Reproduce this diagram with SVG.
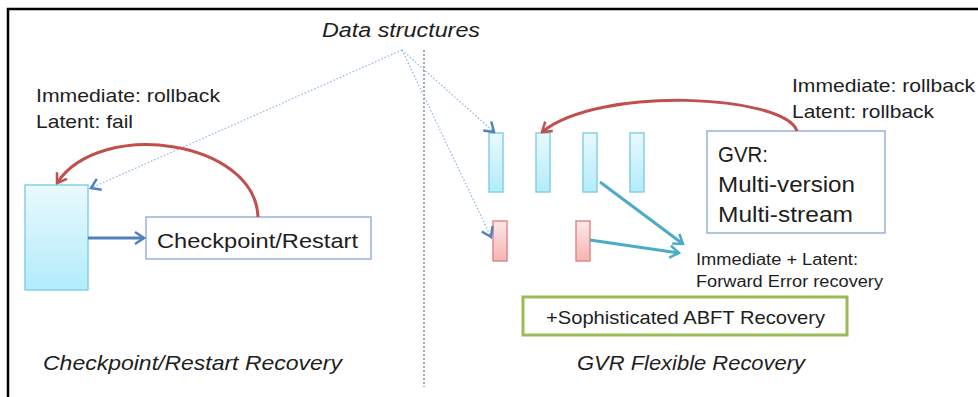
<svg xmlns="http://www.w3.org/2000/svg" width="978" height="397" viewBox="0 0 978 397">
<style>
text{font-family:"Liberation Sans",Arial,sans-serif;fill:#1e1e1e}
.it{font-style:italic}
.dot{fill:none;stroke:#8db3e2;stroke-width:1.2;stroke-dasharray:1.5 2}
.red{fill:none;stroke:#c0504d;stroke-width:3}
.teal{fill:none;stroke:#4bacc6;stroke-width:3}
.blue{fill:none;stroke:#4f81bd;stroke-width:3}
.brect{fill:url(#gb);stroke:#86cfe3;stroke-width:1.5}
.rrect{fill:url(#gr);stroke:#e0898a;stroke-width:1.5}
.box{fill:#fff;stroke:#95b3d7;stroke-width:1.5}
</style>
<defs>
<linearGradient id="gb" x1="0" y1="0" x2="0" y2="1"><stop offset="0" stop-color="#e9f9fd"/><stop offset="1" stop-color="#b2ecfb"/></linearGradient>
<linearGradient id="gr" x1="0" y1="0" x2="0" y2="1"><stop offset="0" stop-color="#fde8e8"/><stop offset="1" stop-color="#f6b3b3"/></linearGradient>
<marker id="mb" markerUnits="userSpaceOnUse" viewBox="-12 -8 14 16" markerWidth="14" markerHeight="16" refX="0" refY="0" orient="auto"><path d="M-9,-6 L0,0 L-9,6" fill="none" stroke="#4f81bd" stroke-width="2.5"/></marker>
<marker id="mr" markerUnits="userSpaceOnUse" viewBox="-12 -8 14 16" markerWidth="14" markerHeight="16" refX="0" refY="0" orient="auto"><path d="M-9,-6 L0,0 L-9,6" fill="none" stroke="#c0504d" stroke-width="2.5"/></marker>
<marker id="mt" markerUnits="userSpaceOnUse" viewBox="-12 -8 14 16" markerWidth="14" markerHeight="16" refX="0" refY="0" orient="auto"><path d="M-9,-6 L0,0 L-9,6" fill="none" stroke="#4bacc6" stroke-width="2.5"/></marker>
</defs>
<rect width="978" height="397" fill="#fff"/>
<path d="M8,397 V9 H978" fill="none" stroke="#000" stroke-width="2.5"/>
<line x1="424" y1="50" x2="424" y2="387" stroke="#555" stroke-width="1" stroke-dasharray="2 2"/>

<g id="title-data"><text class="it" x="322" y="37" font-size="20" textLength="158" lengthAdjust="spacingAndGlyphs">Data structures</text></g>

<g id="left-label"><text x="36" y="102" font-size="19" textLength="184" lengthAdjust="spacingAndGlyphs">Immediate: rollback</text><text x="36" y="128" font-size="19" textLength="97" lengthAdjust="spacingAndGlyphs">Latent: fail</text></g>

<g id="left-data"><rect class="brect" x="25" y="185" width="63" height="105"/></g>
<g id="checkpoint"><rect class="box" x="146" y="217" width="225" height="42"/><text x="157" y="248" font-size="21" textLength="201" lengthAdjust="spacingAndGlyphs">Checkpoint/Restart</text></g>
<g id="left-caption"><text class="it" x="43" y="370" font-size="21" textLength="299" lengthAdjust="spacingAndGlyphs">Checkpoint/Restart Recovery</text></g>

<g id="versions">
<rect class="brect" x="489" y="133" width="14" height="59"/>
<rect class="brect" x="536" y="133" width="14" height="59"/>
<rect class="brect" x="583" y="133" width="14" height="59"/>
<rect class="brect" x="630" y="133" width="14" height="59"/>
</g>
<g id="streams">
<rect class="rrect" x="493" y="221" width="14" height="40"/>
<rect class="rrect" x="576" y="221" width="14" height="40"/>
</g>
<g id="gvr"><rect class="box" x="707" y="131" width="178" height="102"/>
<text x="718" y="162" font-size="22" textLength="50" lengthAdjust="spacingAndGlyphs">GVR:</text>
<text x="718" y="192" font-size="22" textLength="137" lengthAdjust="spacingAndGlyphs">Multi-version</text>
<text x="718" y="222" font-size="22" textLength="135" lengthAdjust="spacingAndGlyphs">Multi-stream</text></g>
<g id="right-label"><text x="792" y="92" font-size="19" textLength="183" lengthAdjust="spacingAndGlyphs">Immediate: rollback</text><text x="792" y="118" font-size="19" textLength="142" lengthAdjust="spacingAndGlyphs">Latent: rollback</text></g>
<g id="forward-label"><text x="696" y="265" font-size="16" textLength="162" lengthAdjust="spacingAndGlyphs">Immediate + Latent:</text><text x="696" y="287" font-size="16" textLength="187" lengthAdjust="spacingAndGlyphs">Forward Error recovery</text></g>
<g id="abft"><rect x="523" y="297" width="324" height="38" fill="#fff" stroke="#9bbb59" stroke-width="3"/><text x="546" y="324" font-size="19" textLength="279" lengthAdjust="spacingAndGlyphs">+Sophisticated ABFT Recovery</text></g>
<g id="right-caption"><text class="it" x="577" y="370" font-size="21" textLength="228" lengthAdjust="spacingAndGlyphs">GVR Flexible Recovery</text></g>

<g id="connectors">
<path class="dot" d="M402,50 L91,188" marker-end="url(#mb)"/>
<path class="dot" d="M402,50 L494,132" marker-end="url(#mb)"/>
<path class="dot" d="M402,50 L491,237" marker-end="url(#mb)"/>
<path class="blue" d="M88,238 H144" marker-end="url(#mb)"/>
<path class="red" d="M258,217 C255,140 100,118 57,183" marker-end="url(#mr)"/>
<path class="red" d="M797,131 C785,95 600,85 542,132" marker-end="url(#mr)"/>
<path class="teal" d="M600,182 L683,244" marker-end="url(#mt)"/>
<path class="teal" d="M590,240 L679,253" marker-end="url(#mt)"/>
</g>
</svg>
